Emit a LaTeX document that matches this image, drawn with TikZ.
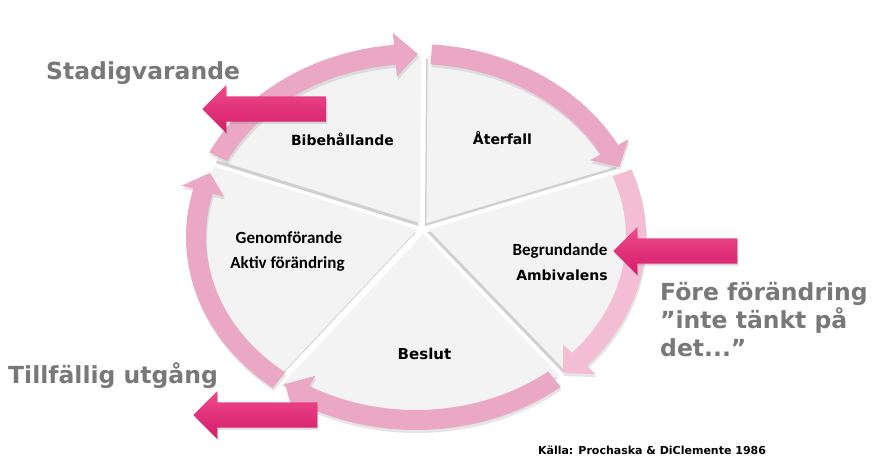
\documentclass[tikz,border=0pt]{standalone}
\usepackage{fontspec}
\setmainfont{DejaVu Sans}
\newfontfamily\narrowfont{Carlito}
\usetikzlibrary{shapes.arrows}
\usetikzlibrary{shadows}

\definecolor{ringpink}{RGB}{234,168,196}
\definecolor{ringpale}{RGB}{243,190,212}
\definecolor{exittop}{RGB}{238,74,142}
\definecolor{exitbottom}{RGB}{212,28,104}
\definecolor{notegray}{RGB}{120,120,120}
\definecolor{wedgegray}{RGB}{243,243,243}

\begin{document}
\begin{tikzpicture}[x=1pt,y=1pt,yscale=-1,xscale=1,
		wedge/.style={fill=wedgegray},
		wedgeshade/.style={fill=black!60,opacity=0.3},
		ringband/.style={fill=ringpink},
		ringshade/.style={fill=black!45,opacity=0.22},
		exitarrow/.style={single arrow,shape border rotate=180,anchor=tip,minimum height=124pt,minimum width=48pt,single arrow head extend=11.5pt,inner xsep=0pt,inner ysep=12.5pt,top color=exittop,bottom color=exitbottom,drop shadow={shadow xshift=1pt,shadow yshift=-2pt,opacity=0.3}},
		stage/.style={inner sep=0.75pt,anchor=base,font=\bfseries\fontsize{14}{16}\selectfont},
		narrowstage/.style={inner sep=0.75pt,anchor=base,font=\narrowfont\bfseries\fontsize{17}{19}\selectfont},
		note/.style={inner sep=0pt,text=notegray,align=left,font=\bfseries\fontsize{23.5}{28}\selectfont}]
			
			%Background
			\fill[white] (0,0) rectangle (886,472);
			\useasboundingbox (0,0) rectangle (886,472);
			
			\begin{scope}[shift={(416,237)}]
			%Shape: Wedge shadows
			\fill[wedgeshade,shift={(238:6)},shift={(-1.5,3)}] (7,-9) -- (203.9:214 and 177) arc[start angle=203.9,end angle=272.2,x radius=214,y radius=177] -- cycle;
			\fill[wedgeshade,shift={(305.2:6)},shift={(-1.5,3)}] (7,-9) -- (272.2:214 and 177) arc[start angle=272.2,end angle=338.1,x radius=214,y radius=177] -- cycle;
			\fill[wedgeshade,shift={(13.1:6)},shift={(-1.5,3)}] (7,-9) -- (338.1:214 and 177) arc[start angle=338.1,end angle=408.1,x radius=214,y radius=177] -- cycle;
			\fill[wedgeshade,shift={(88.1:6)},shift={(-1.5,3)}] (7,-9) -- (48.1:214 and 177) arc[start angle=48.1,end angle=128.1,x radius=214,y radius=177] -- cycle;
			\fill[wedgeshade,shift={(166:6)},shift={(-1.5,3)}] (7,-9) -- (128.1:214 and 177) arc[start angle=128.1,end angle=203.9,x radius=214,y radius=177] -- cycle;
			%Shape: Wedges
			\fill[wedge,shift={(238:6)}] (7,-9) -- (203.9:214 and 177) arc[start angle=203.9,end angle=272.2,x radius=214,y radius=177] -- cycle;
			\fill[wedge,shift={(305.2:6)}] (7,-9) -- (272.2:214 and 177) arc[start angle=272.2,end angle=338.1,x radius=214,y radius=177] -- cycle;
			\fill[wedge,shift={(13.1:6)}] (7,-9) -- (338.1:214 and 177) arc[start angle=338.1,end angle=408.1,x radius=214,y radius=177] -- cycle;
			\fill[wedge,shift={(88.1:6)}] (7,-9) -- (48.1:214 and 177) arc[start angle=48.1,end angle=128.1,x radius=214,y radius=177] -- cycle;
			\fill[wedge,shift={(166:6)}] (7,-9) -- (128.1:214 and 177) arc[start angle=128.1,end angle=203.9,x radius=214,y radius=177] -- cycle;
			
			%Curve Arrows: ring shadows
			\fill[ringshade,shift={(1,3)}] (206:230 and 193) arc[start angle=206,end angle=264.5,x radius=230,y radius=193] -- (264.5:242 and 205) -- (270.5:220 and 183) -- (264.5:198 and 161) -- (264.5:210 and 173) arc[start angle=264.5,end angle=206,x radius=210,y radius=173] -- cycle;
			\fill[ringshade,shift={(1,3)}] (274:230 and 193) arc[start angle=274,end angle=331.5,x radius=230,y radius=193] -- (331.5:242 and 205) -- (337.5:220 and 183) -- (331.5:198 and 161) -- (331.5:210 and 173) arc[start angle=331.5,end angle=274,x radius=210,y radius=173] -- cycle;
			\fill[ringshade,shift={(1,3)}] (-20.5:230 and 193) arc[start angle=-20.5,end angle=42,x radius=230,y radius=193] -- (42:242 and 205) -- (48:220 and 183) -- (42:198 and 161) -- (42:210 and 173) arc[start angle=42,end angle=-20.5,x radius=210,y radius=173] -- cycle;
			\fill[ringshade,shift={(1,3)}] (51:230 and 193) arc[start angle=51,end angle=120.5,x radius=230,y radius=193] -- (120.5:242 and 205) -- (126.5:220 and 183) -- (120.5:198 and 161) -- (120.5:210 and 173) arc[start angle=120.5,end angle=51,x radius=210,y radius=173] -- cycle;
			\fill[ringshade,shift={(1,3)}] (128.5:230 and 193) arc[start angle=128.5,end angle=194.5,x radius=230,y radius=193] -- (194.5:242 and 205) -- (200.5:220 and 183) -- (194.5:198 and 161) -- (194.5:210 and 173) arc[start angle=194.5,end angle=128.5,x radius=210,y radius=173] -- cycle;
			%Curve Arrows: ring
			\fill[ringband] (206:230 and 193) arc[start angle=206,end angle=264.5,x radius=230,y radius=193] -- (264.5:242 and 205) -- (270.5:220 and 183) -- (264.5:198 and 161) -- (264.5:210 and 173) arc[start angle=264.5,end angle=206,x radius=210,y radius=173] -- cycle;
			\fill[ringband] (274:230 and 193) arc[start angle=274,end angle=331.5,x radius=230,y radius=193] -- (331.5:242 and 205) -- (337.5:220 and 183) -- (331.5:198 and 161) -- (331.5:210 and 173) arc[start angle=331.5,end angle=274,x radius=210,y radius=173] -- cycle;
			\fill[ringband,fill=ringpale] (-20.5:230 and 193) arc[start angle=-20.5,end angle=42,x radius=230,y radius=193] -- (42:242 and 205) -- (48:220 and 183) -- (42:198 and 161) -- (42:210 and 173) arc[start angle=42,end angle=-20.5,x radius=210,y radius=173] -- cycle;
			\fill[ringband] (51:230 and 193) arc[start angle=51,end angle=120.5,x radius=230,y radius=193] -- (120.5:242 and 205) -- (126.5:220 and 183) -- (120.5:198 and 161) -- (120.5:210 and 173) arc[start angle=120.5,end angle=51,x radius=210,y radius=173] -- cycle;
			\fill[ringband] (128.5:230 and 193) arc[start angle=128.5,end angle=194.5,x radius=230,y radius=193] -- (194.5:242 and 205) -- (200.5:220 and 183) -- (194.5:198 and 161) -- (194.5:210 and 173) arc[start angle=194.5,end angle=128.5,x radius=210,y radius=173] -- cycle;
			\end{scope}
			
			%Block Arrows
			\node[exitarrow] (stadarrow) at (202,109) {};
			\node[exitarrow] (forearrow) at (613,251) {};
			\node[exitarrow] (tillarrow) at (193,415) {};
			
			% Text Node
			\node[stage] (bibeh) at (342.5,145) {Bibehållande};
			% Text Node
			\node[stage] (aterfall) at (502.5,144) {Återfall};
			% Text Node
			\node[narrowstage] (genomf) at (289,243) {Genomförande};
			% Text Node
			\node[narrowstage] (aktiv) at (287.5,268) {Aktiv förändring};
			% Text Node
			\node[narrowstage] (begrund) at (560,255) {Begrundande};
			% Text Node
			\node[stage] (ambiv) at (562,280) {Ambivalens};
			% Text Node
			\node[stage,font=\bfseries\fontsize{15}{17}\selectfont] (beslut) at (424.5,359) {Beslut};
			% Text Node
			\node[note,anchor=base west] (stadig) at (46,79) {Stadigvarande};
			% Text Node
			\node[note,anchor=base west] (tillf) at (8,383) {Tillfällig utgång};
			% Text Node
			\node[note,anchor=north west] (fore) at (660,282) {Före förändring\\”inte tänkt på\\det...”};
			% Text Node
			\node[inner sep=0pt,anchor=base,font=\bfseries\fontsize{11}{13}\selectfont] (kalla) at (652,454) {Källa: Prochaska \& DiClemente 1986};
			
\end{tikzpicture}
\end{document}
